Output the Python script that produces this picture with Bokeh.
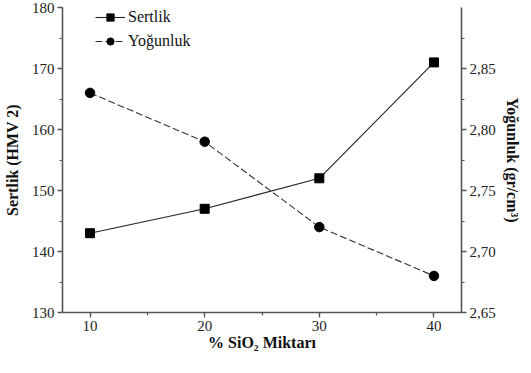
from bokeh.plotting import figure
from bokeh.models import (Range1d, LinearAxis, SingleIntervalTicker, CustomJSTickFormatter,
                          Legend, LegendItem, ColumnDataSource)
from bokeh.embed import file_html
from bokeh.resources import INLINE

sio2 = [10, 20, 30, 40]
sertlik = [143, 147, 152, 171]
yogunluk = [2.83, 2.79, 2.72, 2.68]

FONT = "Liberation Serif"
AX = "#555555"

p = figure(width=523, height=365, output_backend="svg", toolbar_location=None,
           x_range=Range1d(7.6, 42.4), y_range=Range1d(130, 180),
           min_border_left=54, min_border_right=62, min_border_top=7, min_border_bottom=53)
p.outline_line_color = None
p.xgrid.visible = False
p.ygrid.visible = False
p.extra_y_ranges = {"y2": Range1d(2.65, 2.90)}

src1 = ColumnDataSource(dict(x=sio2, y=sertlik))
src2 = ColumnDataSource(dict(x=sio2, y=yogunluk))

l1 = p.line("x", "y", source=src1, line_color="#222222", line_width=1.1)
s1 = p.scatter("x", "y", source=src1, marker="square", size=9, fill_color="black", line_color="black")
l2 = p.line("x", "y", source=src2, y_range_name="y2", line_color="#333333", line_width=1.1, line_dash="7 3")
s2 = p.scatter("x", "y", source=src2, y_range_name="y2", marker="circle", size=9.5,
               fill_color="black", line_color="black")

def style(ax, interval):
    ax.ticker = SingleIntervalTicker(interval=interval, num_minor_ticks=2)
    ax.axis_line_color = AX
    ax.axis_line_width = 1.6
    ax.major_tick_line_color = AX
    ax.minor_tick_line_color = AX
    ax.major_tick_line_width = 1.3
    ax.minor_tick_line_width = 1.2
    ax.major_tick_in = 0
    ax.major_tick_out = 5
    ax.minor_tick_in = 0
    ax.minor_tick_out = 3
    ax.major_label_standoff = 3
    ax.major_label_text_font = FONT
    ax.major_label_text_font_size = "15px"
    ax.major_label_text_color = "#222222"
    ax.axis_label_text_font = FONT
    ax.axis_label_text_font_size = "16px"
    ax.axis_label_text_font_style = "bold"
    ax.axis_label_text_color = "#111111"

style(p.xaxis[0], 10)
p.xaxis[0].axis_label = "% SiO₂ Miktarı"
p.xaxis[0].axis_label_standoff = 0
style(p.yaxis[0], 10)
p.yaxis[0].axis_label = "Sertlik (HMV 2)"
p.yaxis[0].axis_label_standoff = 8

ax2 = LinearAxis(y_range_name="y2", axis_label="Yoğunluk (gr/cm³)")
style(ax2, 0.05)
ax2.formatter = CustomJSTickFormatter(code="return tick.toFixed(2).replace('.', ',');")
ax2.axis_label_standoff = 5
p.add_layout(ax2, "right")

legend = Legend(items=[LegendItem(label="Sertlik", renderers=[l1, s1]),
                       LegendItem(label="Yoğunluk", renderers=[l2, s2])],
                location=(33, 262))
legend.margin = 0
legend.padding = 0
legend.border_line_color = None
legend.background_fill_alpha = 0
legend.label_text_font = FONT
legend.label_text_font_size = "16px"
legend.label_text_color = "#111111"
legend.glyph_width = 30
legend.spacing = 6
legend.label_standoff = 3
legend.label_height = 18
legend.glyph_height = 18
p.add_layout(legend)

open("out.html", "w").write(file_html(p, INLINE))
